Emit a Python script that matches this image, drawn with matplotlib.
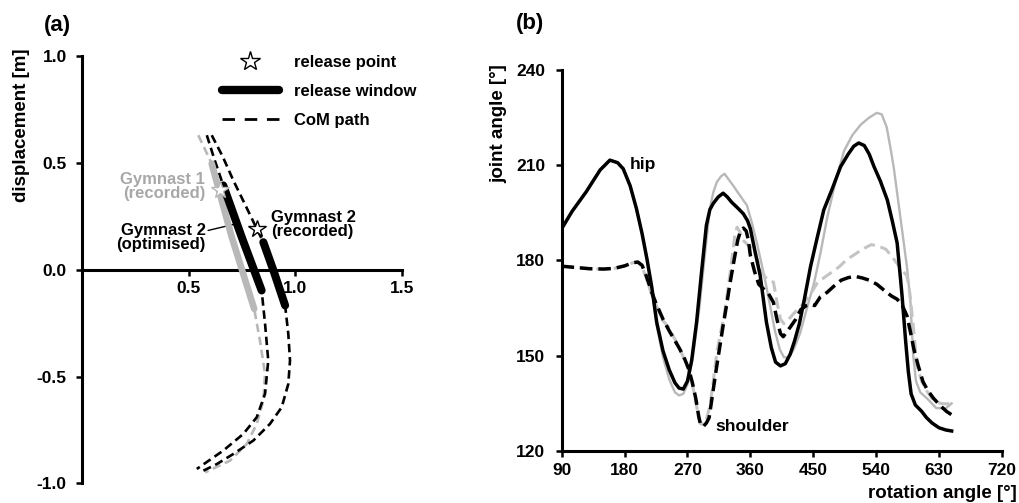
import matplotlib
matplotlib.use("Agg")
import matplotlib.pyplot as plt
from matplotlib.lines import Line2D

plt.rcParams['font.family'] = ['Liberation Sans', 'DejaVu Sans']
plt.rcParams['font.weight'] = 'bold'
plt.rcParams['axes.unicode_minus'] = False

# ---------------- panel (a) data: CoM paths [m] ----------------
g2_rec_x = [0.608, 0.660, 0.709, 0.765, 0.819, 0.850, 0.900, 0.952, 0.967, 0.975, 0.967, 0.936, 0.881, 0.803, 0.709, 0.632, 0.569]
g2_rec_y = [0.631, 0.530, 0.420, 0.305, 0.193, 0.130, -0.010, -0.166, -0.299, -0.424, -0.534, -0.643, -0.721, -0.799, -0.862, -0.909, -0.940]
g2_opt_x = [0.585, 0.620, 0.662, 0.750, 0.842, 0.858, 0.873, 0.858, 0.819, 0.756, 0.662, 0.538]
g2_opt_y = [0.631, 0.520, 0.396, 0.150, -0.096, -0.252, -0.424, -0.580, -0.690, -0.768, -0.846, -0.932]
g1_rec_x = [0.545, 0.608, 0.700, 0.807, 0.834, 0.858, 0.850, 0.819, 0.772, 0.694, 0.577]
g1_rec_y = [0.631, 0.498, 0.160, -0.182, -0.330, -0.487, -0.612, -0.721, -0.815, -0.893, -0.948]

# release windows
g2_rec_win_x = [0.850, 0.900, 0.952]
g2_rec_win_y = [0.130, -0.010, -0.166]
g2_opt_win_x = [0.662, 0.750, 0.842]
g2_opt_win_y = [0.396, 0.150, -0.096]
g1_rec_win_x = [0.608, 0.700, 0.807]
g1_rec_win_y = [0.498, 0.160, -0.182]

# release points
g2_rel_x, g2_rel_y = [0.819], [0.193]
g1_rel_x, g1_rel_y = [0.645], [0.373]

a_xticks = [0.5, 1.0, 1.5]
a_yticks = [1.0, 0.5, 0.0, -0.5, -1.0]

# ---------------- panel (b) data: joint angles [deg] ----------------
hip_opt_x = [90, 105, 125, 145, 159, 170, 178, 188, 197, 205, 212, 219, 226, 235, 244, 252, 258, 264, 270, 276,
             283, 290, 297, 302, 307, 314, 321, 327, 333, 342, 350, 356, 360, 366, 374, 383, 390, 396, 403, 410,
             417, 423, 430, 437, 446, 455, 465, 477, 489, 500, 508, 515, 523, 530, 537, 546, 556, 563, 570, 577,
             582, 586, 590, 596, 605, 612, 620, 630, 640, 648]
hip_opt_y = [190.0, 195.5, 201.6, 208.5, 211.6, 210.8, 208.9, 203.5, 196.3, 188.5, 180.5, 171.5, 160.5, 151.5, 145.5,
             141.5, 139.8, 139.5, 142.0, 148.5, 160.5, 176.0, 191.0, 196.0, 198.0, 200.0, 201.2, 200.0, 198.4, 196.5,
             194.7, 192.5, 190.0, 183.5, 175.3, 160.5, 152.5, 148.0, 146.8, 147.5, 150.5, 154.5, 160.0, 167.5, 178.0,
             186.6, 195.9, 202.5, 209.5, 213.5, 216.0, 217.0, 216.2, 213.5, 209.5, 205.0, 199.0, 192.5, 185.5, 169.0,
             155.0, 145.0, 138.0, 134.5, 132.5, 130.5, 128.8, 127.3, 126.6, 126.3]

hip_rec_x = [90, 105, 125, 145, 159, 170, 178, 188, 197, 205, 212, 219, 226, 235, 244, 252, 258, 264, 270, 278,
             287, 295, 302, 307, 312, 318, 323, 329, 335, 345, 355, 362, 369, 380, 388, 395, 402, 408, 415, 422,
             431, 441, 451, 460, 470, 482, 494, 506, 518, 530, 541, 548, 555, 560, 565, 575, 584, 589, 593, 597,
             603, 613, 626, 640, 648]
hip_rec_y = [190.0, 195.5, 201.6, 208.5, 211.6, 210.8, 208.9, 203.5, 196.3, 188.5, 180.5, 171.0, 159.5, 149.5, 142.5,
             138.5, 137.5, 138.0, 141.0, 150.0, 165.0, 182.0, 196.3, 201.5, 204.7, 206.5, 207.3, 205.5, 203.7, 200.5,
             197.4, 192.0, 185.8, 175.0, 166.0, 158.0, 152.0, 149.5, 149.5, 152.0, 157.0, 165.0, 172.8, 182.0, 193.6,
             205.0, 214.5, 219.5, 222.8, 225.0, 226.5, 226.0, 222.0, 216.0, 209.5, 193.0, 178.0, 167.0, 150.0, 142.0,
             138.5, 136.5, 133.5, 133.5, 135.0]

sho_opt_x = [90, 110, 130, 150, 165, 180, 192, 199, 205, 211, 218, 225, 235, 243, 250, 258, 265, 272, 277, 282,
             286, 289, 293, 297, 301, 306, 311, 316, 321, 326, 331, 337, 342, 346, 350, 354, 357, 360, 366, 372,
             379, 386, 393, 398, 403, 407, 412, 418, 425, 432, 440, 446, 452, 460, 470, 480, 490, 500, 510, 520,
             530, 541, 552, 562, 570, 577, 584, 589, 594, 600, 607, 614, 622, 632, 641, 648]
sho_opt_y = [178.2, 177.8, 177.4, 177.3, 177.5, 178.3, 179.3, 179.5, 178.5, 175.2, 170.5, 166.5, 161.5, 158.2, 155.5,
             152.5, 149.5, 145.7, 141.5, 136.4, 131.0, 128.0, 127.8, 128.8, 130.5, 138.0, 145.5, 152.5, 159.5, 166.0,
             173.0, 180.5, 186.5, 189.3, 190.2, 189.3, 186.5, 181.6, 176.5, 172.5, 171.0, 169.5, 166.8, 161.5, 157.0,
             156.0, 157.5, 159.3, 161.5, 164.5, 165.8, 166.2, 165.8, 168.5, 170.0, 172.0, 173.8, 174.6, 175.0, 174.5,
             173.8, 172.5, 170.5, 168.8, 167.8, 166.0, 162.6, 157.5, 152.0, 147.0, 141.8, 139.0, 136.6, 134.2, 132.4,
             131.4]

sho_rec_x = [90, 110, 130, 150, 165, 180, 192, 199, 205, 211, 218, 226, 235, 243, 250, 258, 265, 271, 277, 282,
             286, 289, 293, 297, 302, 307, 312, 318, 322, 326, 331, 335, 338, 341, 345, 349, 356, 364, 372, 380,
             388, 393, 398, 403, 408, 415, 422, 430, 436, 445, 455, 465, 475, 487, 498, 510, 520, 533, 544, 554,
             565, 575, 584, 588, 591, 595, 598, 605, 613, 622, 632, 642, 648]
sho_rec_y = [178.2, 177.8, 177.4, 177.3, 177.5, 178.3, 179.3, 179.5, 178.0, 174.5, 169.7, 165.5, 161.0, 159.0, 156.0,
             152.8, 149.0, 146.0, 141.0, 135.5, 130.5, 128.5, 128.5, 130.0, 134.0, 142.0, 151.0, 158.0, 162.0, 168.0,
             176.0, 183.0, 188.4, 190.5, 189.0, 186.5, 185.0, 183.7, 179.0, 175.0, 173.5, 173.2, 167.0, 161.5, 160.1,
             161.5, 163.3, 165.0, 166.4, 169.0, 172.7, 174.5, 176.1, 178.0, 180.3, 182.0, 183.5, 185.0, 184.5, 183.5,
             180.5, 177.5, 175.2, 170.0, 163.7, 155.0, 147.0, 142.0, 138.7, 136.0, 135.0, 134.8, 135.5]

b_xticks = [90, 180, 270, 360, 450, 540, 630, 720]
b_yticks = [120, 150, 180, 210, 240]

GREY_LINE = '#b8b8b8'
GREY_TEXT = '#a8a8a8'

fig = plt.figure(figsize=(10.19, 5.03), dpi=100)

# ====================== panel (a) ======================
axa = fig.add_axes([0.0805, 0.0388, 0.3140, 0.849])
axa.set_xlim(0, 1.5)
axa.set_ylim(-1.0, 1.0)
for s in ['top', 'right']:
    axa.spines[s].set_visible(False)
axa.spines['bottom'].set_position(('data', 0))
axa.spines['left'].set_linewidth(2.2)
axa.spines['bottom'].set_linewidth(2.2)
axa.set_xticks(a_xticks)
axa.set_xticklabels(['0.5', '1.0', '1.5'])
axa.set_yticks(a_yticks)
axa.set_yticklabels(['1.0', '0.5', '0.0', '-0.5', '-1.0'])
axa.tick_params(axis='x', direction='out', length=4, width=1.8, labelsize=12.5, pad=4)
axa.tick_params(axis='y', direction='out', length=4, width=1.8, labelsize=12.5, pad=7)

dash_a = (3.2, 1.8)
axa.plot(g1_rec_x, g1_rec_y, color=GREY_LINE, lw=1.9, dashes=dash_a, zorder=2)
axa.plot(g2_opt_x, g2_opt_y, color='black', lw=1.9, dashes=dash_a, zorder=3)
axa.plot(g2_rec_x, g2_rec_y, color='black', lw=1.9, dashes=dash_a, zorder=3)

axa.plot(g1_rec_win_x, g1_rec_win_y, color=GREY_LINE, lw=4.8, solid_capstyle='round', zorder=4)
axa.plot(g2_opt_win_x, g2_opt_win_y, color='black', lw=5.8, solid_capstyle='round', zorder=5)
axa.plot(g2_rec_win_x, g2_rec_win_y, color='black', lw=5.8, solid_capstyle='round', zorder=5)

axa.plot(g1_rel_x, g1_rel_y, marker='*', ms=13, mfc='white', mec=GREY_LINE, mew=1.0, ls='none', zorder=6)
axa.plot(g2_rel_x, g2_rel_y, marker='*', ms=13, mfc='white', mec='black', mew=1.0, ls='none', zorder=6)

axa.text(0.577, 0.391, 'Gymnast 1\n(recorded)', color=GREY_TEXT, fontsize=12, fontweight='bold',
         ha='right', va='center', linespacing=0.9, zorder=7)
axa.text(0.581, 0.152, 'Gymnast 2\n(optimised)', color='black', fontsize=12, fontweight='bold',
         ha='right', va='center', linespacing=0.9, zorder=7)
axa.text(0.886, 0.213, 'Gymnast 2\n(recorded)', color='black', fontsize=12, fontweight='bold',
         ha='left', va='center', linespacing=0.9, zorder=7)
axa.annotate('', xy=(0.709, 0.213), xytext=(0.591, 0.185),
             arrowprops=dict(arrowstyle='-', color='black', lw=1.0, shrinkA=0, shrinkB=0))

leg_handles = [
    Line2D([], [], ls='none', marker='*', ms=15, mfc='white', mec='black', mew=1.0),
    Line2D([], [], color='black', lw=6, solid_capstyle='round'),
    Line2D([], [], color='black', lw=2.0, dashes=(4.5, 3.5)),
]
leg = axa.legend(leg_handles, ['release point', 'release window', 'CoM path'],
                 loc='upper left', bbox_to_anchor=(222 / 1019, 1 - 55 / 503),
                 bbox_transform=fig.transFigure, frameon=False,
                 handlelength=3.4, handletextpad=0.9, labelspacing=0.85,
                 borderpad=0, borderaxespad=0, prop={'weight': 'bold', 'size': 12})

axa.set_ylabel('displacement [m]', fontsize=13.5, fontweight='bold')
axa.yaxis.set_label_coords(-0.163, 0.84)
fig.text(57 / 1019, 1 - 25 / 503, '(a)', fontsize=16, fontweight='bold', ha='center', va='center')

# ====================== panel (b) ======================
axb = fig.add_axes([0.5512, 0.1034, 0.4321, 0.7575])
axb.set_xlim(90, 720)
axb.set_ylim(120, 240)
for s in ['top', 'right']:
    axb.spines[s].set_visible(False)
axb.spines['left'].set_linewidth(2.2)
axb.spines['bottom'].set_linewidth(2.2)
axb.set_xticks(b_xticks)
axb.set_yticks(b_yticks)
axb.tick_params(axis='x', direction='out', length=4, width=1.8, labelsize=12.5, pad=5)
axb.tick_params(axis='y', direction='out', length=4, width=1.8, labelsize=12.5, pad=8)

axb.plot(hip_rec_x, hip_rec_y, color=GREY_LINE, lw=1.7, zorder=2)
axb.plot(sho_rec_x, sho_rec_y, color='#c4c4c4', lw=2.2, dashes=(3.8, 1.9), zorder=2)
axb.plot(hip_opt_x, hip_opt_y, color='black', lw=2.5, zorder=3)
axb.plot(sho_opt_x, sho_opt_y, color='black', lw=2.5, dashes=(3.6, 1.7), zorder=3)

axb.text(187, 210.3, 'hip', fontsize=12.5, fontweight='bold', ha='left', va='center')
axb.text(310, 127.6, 'shoulder', fontsize=12.5, fontweight='bold', ha='left', va='center')

axb.set_ylabel('joint angle [°]', fontsize=13.5, fontweight='bold')
axb.yaxis.set_label_coords(-0.124, 0.86)
axb.set_xlabel('rotation angle [°]', fontsize=13.5, fontweight='bold', ha='right', va='bottom')
axb.xaxis.set_label_coords(1.034, -0.134)
fig.text(530 / 1019, 1 - 24 / 503, '(b)', fontsize=16, fontweight='bold', ha='center', va='center')

fig.savefig('out.png', dpi=100)
